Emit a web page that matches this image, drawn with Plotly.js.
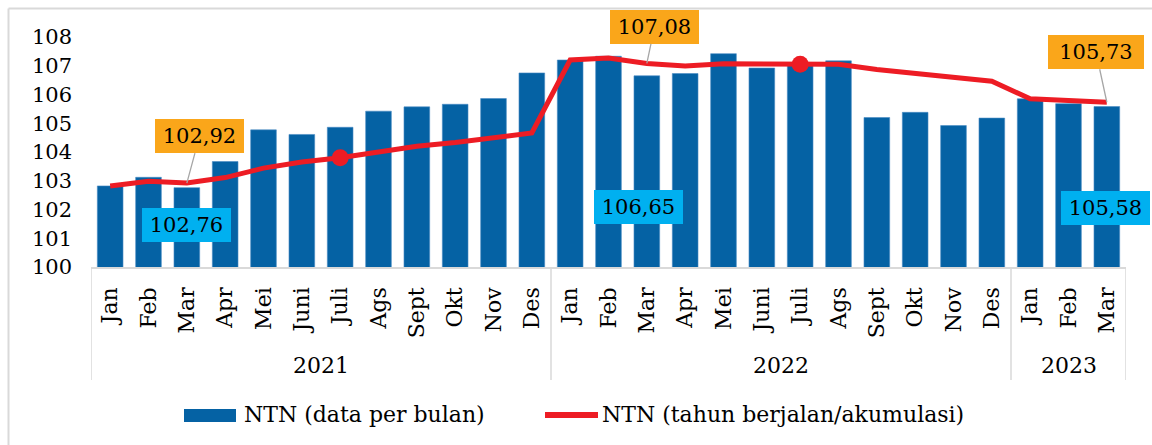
<!DOCTYPE html>
<html>
<head>
<meta charset="utf-8">
<script src="https://cdn.plot.ly/plotly-3.0.1.min.js"></script>
<style>
  html, body { margin: 0; padding: 0; background: #ffffff; }
  #chart { width: 1152px; height: 445px; }
</style>
</head>
<body>
<div id="chart"></div>
<script>
// ---- data ----
const monthLabels = [
  'Jan','Feb','Mar','Apr','Mei','Juni','Juli','Ags','Sept','Okt','Nov','Des',
  'Jan','Feb','Mar','Apr','Mei','Juni','Juli','Ags','Sept','Okt','Nov','Des',
  'Jan','Feb','Mar'
];
const yearLabels = ['2021', '2022', '2023'];
const yearMonthCounts = [12, 12, 3];

const ntnMonthly = [
  102.82, 103.12, 102.76, 103.67, 104.77, 104.61, 104.86, 105.42, 105.57, 105.66, 105.86, 106.75,
  107.20, 107.33, 106.65, 106.73, 107.42, 106.92, 107.10, 107.17, 105.20, 105.38, 104.92, 105.18,
  105.85, 105.68, 105.58
];
const ntnCumulative = [
  102.82, 102.98, 102.92, 103.11, 103.44, 103.65, 103.80, 104.00, 104.20, 104.33, 104.48, 104.66,
  107.20, 107.27, 107.08, 106.99, 107.07, 107.05, 107.05, 107.05, 106.87, 106.74, 106.57, 106.46,
  105.85, 105.80, 105.73
];
const seriesNames = ['NTN (data per bulan)', 'NTN (tahun berjalan/akumulasi)'];
const yTicks = [100, 101, 102, 103, 104, 105, 106, 107, 108];

// points that get callouts / markers
const calloutIdx = [2, 14, 26];
const markerIdx = [6, 18];

// ---- styles ----
const FONT = '"DejaVu Serif", "Liberation Serif", serif';
const BLUE = '#0562A4';
const RED = '#ED1C24';
const ORANGE = '#FAA61A';
const CYAN = '#00B0F0';
const GRID = '#D9D9D9';

const idx = monthLabels.map((_, i) => i);
const fmt = v => v.toFixed(2).replace('.', ',');

const traces = [
  {
    type: 'bar', x: idx, y: ntnMonthly, name: seriesNames[0],
    marker: { color: BLUE, line: { color: '#4A8CC4', width: 0.6 } },
    hoverinfo: 'skip'
  },
  {
    type: 'scatter', mode: 'lines', x: idx, y: ntnCumulative, name: seriesNames[1],
    line: { color: RED, width: 5 }, hoverinfo: 'skip'
  },
  {
    type: 'scatter', mode: 'markers',
    x: markerIdx, y: markerIdx.map(i => ntnCumulative[i]),
    marker: { color: RED, size: 17 }, showlegend: false, hoverinfo: 'skip'
  }
];

// callout offsets (pixels, box centre relative to point)
const cumOffsets = [[12.7, -47], [7.7, -36.5], [-10.8, -50]];
const cumWidths = [89, 89, 96];
const monOffsets = [[-0.3, -37.6], [-8.1, -131.3], [-1.4, -101.7]];

const annotations = [];
calloutIdx.forEach((i, k) => {
  annotations.push({
    x: i, y: ntnCumulative[i], xref: 'x', yref: 'y',
    text: fmt(ntnCumulative[i]), showarrow: true,
    ax: cumOffsets[k][0], ay: cumOffsets[k][1], axref: 'pixel', ayref: 'pixel',
    arrowhead: 0, arrowwidth: 1.3, arrowcolor: '#A6A6A6', standoff: 0,
    bgcolor: ORANGE, borderpad: 0, borderwidth: 0, width: cumWidths[k], height: 34,
    font: { family: FONT, size: 21, color: '#000' }
  });
  annotations.push({
    x: i, y: ntnMonthly[i], xref: 'x', yref: 'y',
    text: fmt(ntnMonthly[i]), showarrow: false,
    xshift: monOffsets[k][0], yshift: monOffsets[k][1],
    xanchor: 'center', yanchor: 'middle',
    bgcolor: CYAN, borderpad: 0, borderwidth: 0, width: 89, height: 34,
    font: { family: FONT, size: 21, color: '#000' }
  });
});

// year group labels and divider lines
const shapes = [];
let start = 0;
shapes.push({
  type: 'line', xref: 'x', yref: 'paper', ysizemode: 'pixel', yanchor: 0,
  x0: -0.5, x1: -0.5, y0: 0, y1: -113, line: { color: GRID, width: 1.5 }
});
yearLabels.forEach((yr, k) => {
  const n = yearMonthCounts[k];
  annotations.push({
    x: start + (n - 1) / 2, xref: 'x', y: 0, yref: 'paper', yshift: -98,
    text: yr, showarrow: false, xanchor: 'center', yanchor: 'middle',
    font: { family: FONT, size: 22, color: '#000' }
  });
  start += n;
  shapes.push({
    type: 'line', xref: 'x', yref: 'paper', ysizemode: 'pixel', yanchor: 0,
    x0: start - 0.5, x1: start - 0.5, y0: 0, y1: -113, line: { color: GRID, width: 1.5 }
  });
});

// outer frame (left and top edges visible)
shapes.push({
  type: 'line', xref: 'paper', yref: 'paper', xsizemode: 'pixel', ysizemode: 'pixel',
  xanchor: 0, yanchor: 1, x0: -82.5, x1: -82.5, y0: 28.5, y1: -500,
  line: { color: GRID, width: 2 }
});
shapes.push({
  type: 'line', xref: 'paper', yref: 'paper', xsizemode: 'pixel', ysizemode: 'pixel',
  xanchor: 0, yanchor: 1, x0: -82.5, x1: 1200, y0: 28.5, y1: 28.5,
  line: { color: GRID, width: 2 }
});

// custom legend
shapes.push({
  type: 'rect', xref: 'paper', yref: 'paper', xsizemode: 'pixel', ysizemode: 'pixel',
  xanchor: 0, yanchor: 0, x0: 93, x1: 145, y0: -142, y1: -155,
  fillcolor: BLUE, line: { width: 0 }
});
shapes.push({
  type: 'line', xref: 'paper', yref: 'paper', xsizemode: 'pixel', ysizemode: 'pixel',
  xanchor: 0, yanchor: 0, x0: 454, x1: 507, y0: -148, y1: -148,
  line: { color: RED, width: 6 }
});
annotations.push({
  x: 0, xref: 'paper', xshift: 151, y: 0, yref: 'paper', yshift: -147,
  text: seriesNames[0], showarrow: false, xanchor: 'left', yanchor: 'middle',
  font: { family: FONT, size: 22, color: '#000' }
});
annotations.push({
  x: 0, xref: 'paper', xshift: 509, y: 0, yref: 'paper', yshift: -147,
  text: seriesNames[1], showarrow: false, xanchor: 'left', yanchor: 'middle',
  font: { family: FONT, size: 22, color: '#000' }
});

const layout = {
  width: 1152, height: 445,
  margin: { l: 91, r: 26, t: 37, b: 178 },
  paper_bgcolor: '#ffffff', plot_bgcolor: '#ffffff',
  showlegend: false,
  bargap: 0.33,
  font: { family: FONT, size: 21, color: '#000' },
  xaxis: {
    range: [-0.5, monthLabels.length - 0.5],
    tickmode: 'array', tickvals: idx, ticktext: monthLabels,
    tickangle: -90, ticks: '', showgrid: false, zeroline: false,
    showline: true, linecolor: GRID, linewidth: 1.5,
    ticklabelstandoff: 10,
    tickfont: { family: FONT, size: 22, color: '#000' },
    fixedrange: true
  },
  yaxis: {
    range: [100, 108], tickmode: 'array', tickvals: yTicks,
    ticktext: yTicks.map(String),
    showgrid: false, zeroline: false, showline: false, ticks: '',
    ticklabelstandoff: 18,
    tickfont: { family: FONT, size: 21, color: '#000' },
    fixedrange: true
  },
  shapes: shapes,
  annotations: annotations
};

Plotly.newPlot('chart', traces, layout, { displayModeBar: false, staticPlot: true });
</script>
</body>
</html>
